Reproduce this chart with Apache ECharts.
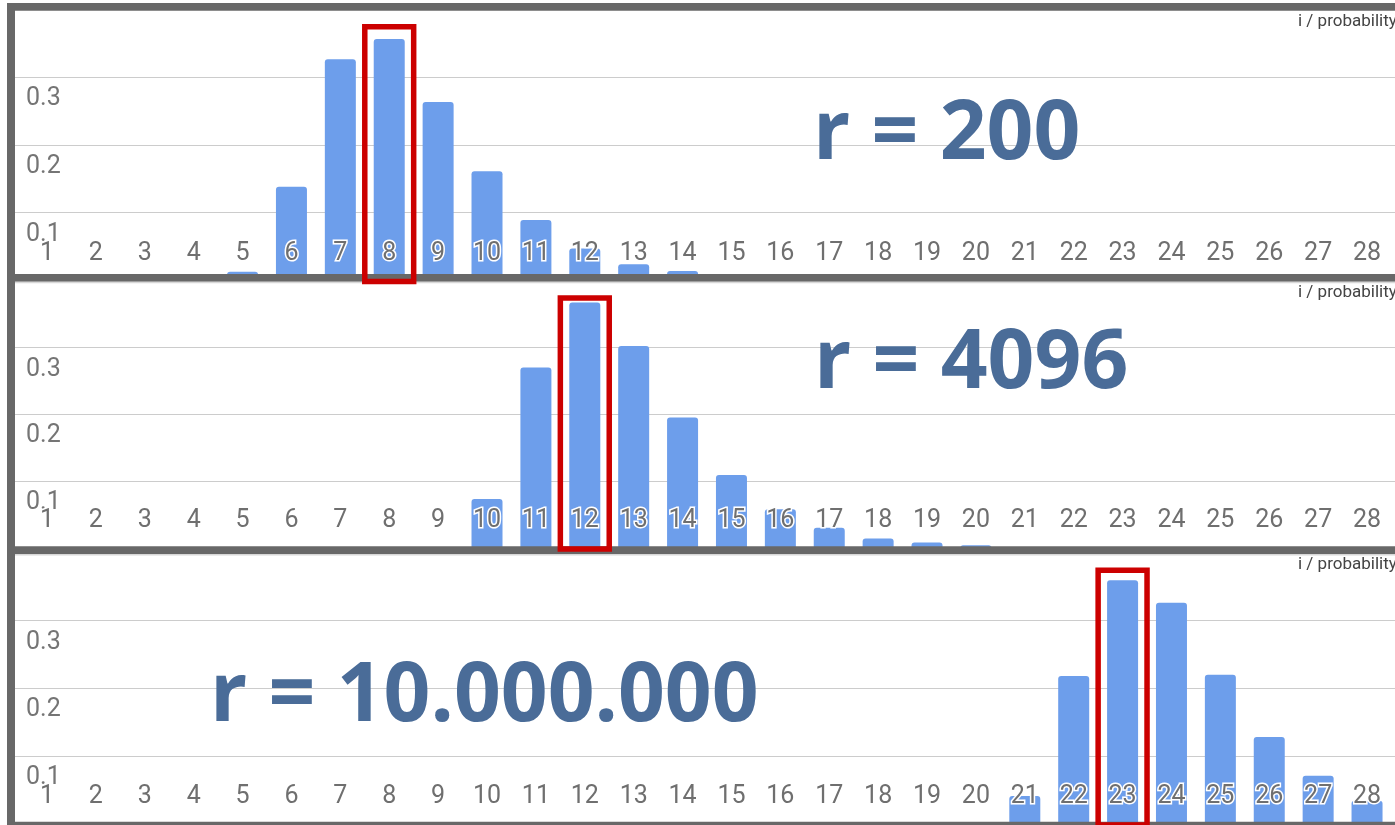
<!DOCTYPE html>
<html>
<head>
<meta charset="utf-8">
<script src="https://cdn.jsdelivr.net/npm/echarts@6/dist/echarts.min.js"></script>
<style>
html, body { margin: 0; padding: 0; background: #fff; }
#main { width: 1395px; height: 825px; }
</style>
</head>
<body>
<div id="main"></div>
<script>
// i = 1 .. 28
var categories = [1, 2, 3, 4, 5, 6, 7, 8, 9, 10, 11, 12, 13, 14, 15, 16, 17, 18, 19, 20, 21, 22, 23, 24, 25, 26, 27, 28];
// probability per i
var probR200 = [0, 0, 0, 0, 0.013, 0.138, 0.326, 0.356, 0.263, 0.161, 0.089, 0.047, 0.024, 0.014,
                0, 0, 0, 0, 0, 0, 0, 0, 0, 0, 0, 0, 0, 0];
var probR4096 = [0, 0, 0, 0, 0, 0, 0, 0, 0, 0.073, 0.270, 0.367, 0.302, 0.195, 0.109, 0.058, 0.030,
                 0.014, 0.008, 0.004, 0, 0, 0, 0, 0, 0, 0, 0];
var probR10M = [0, 0, 0, 0, 0, 0, 0, 0, 0, 0, 0, 0, 0, 0, 0, 0, 0, 0, 0, 0,
                0.041, 0.218, 0.359, 0.326, 0.220, 0.128, 0.071, 0.034];
var yTickLabels = [0.1, 0.2, 0.3];
var panelTitles = ['r = 200', 'r = 4096', 'r = 10.000.000'];
var peakI = [8, 12, 23];

// layout of the three stacked panels (pixels)
var panels = [
  { data: probR200,  top: 9.1,   height: 271.4, frameBottom: 10.7, titleX: 813, titleY: 136 },
  { data: probR4096, top: 280.5, height: 267.4, frameBottom: 281.7, titleX: 814, titleY: 365 },
  { data: probR10M,  top: 552.5, height: 271.4, frameBottom: 554,  titleX: 210, titleY: 698 }
];
var BOX_TOP = 0.374;
var BAR_COLOR = '#6d9eeb';
var FRAME = '#686868';

var chart = echarts.init(document.getElementById('main'));

var grids = [], xAxes = [], yAxes = [], series = [];
panels.forEach(function (p, i) {
  grids.push({ left: 15, right: 0, top: p.top, height: p.height, containLabel: false });
  xAxes.push({
    type: 'value', gridIndex: i, min: 0.3455, max: 28.572, z: 5,
    axisLine: { show: false }, axisTick: { show: false }, splitLine: { show: false },
    axisLabel: {
      customValues: categories,
      margin: -14.5, verticalAlign: 'bottom',
      fontFamily: 'Roboto', fontSize: 25, color: '#6f6f6f',
      textBorderColor: '#fff', textBorderWidth: 3
    }
  });
  yAxes.push({
    type: 'value', gridIndex: i, min: 0, max: 0.4, interval: 0.1,
    axisLine: { show: false }, axisTick: { show: false },
    splitLine: { lineStyle: { color: '#cccccc', width: 1 } },
    axisLabel: {
      inside: true, margin: 11, verticalAlign: 'top', lineHeight: 44,
      fontFamily: 'Roboto', fontSize: 25, color: '#757575',
      formatter: function (v) {
        var r = Math.round(v * 10) / 10;
        return yTickLabels.indexOf(r) >= 0 ? String(r) : '';
      }
    }
  });
  series.push({
    type: 'bar', xAxisIndex: i, yAxisIndex: i, barWidth: 31, silent: true,
    itemStyle: { color: BAR_COLOR, borderRadius: [3, 3, 0, 0] },
    data: categories.map(function (c, k) { return [c, p.data[k]]; })
  });
});

chart.setOption({
  animation: false,
  grid: grids,
  xAxis: xAxes,
  yAxis: yAxes,
  series: series
});

// frame lines, titles, legend text and the red boxes round the peak
var gfx = [];
gfx.push({ type: 'rect', z: 100, shape: { x: 7, y: 3, width: 8, height: 822 }, style: { fill: FRAME } });
gfx.push({ type: 'rect', z: 100, shape: { x: 7, y: 3, width: 1388, height: 7.7 }, style: { fill: FRAME } });
gfx.push({ type: 'rect', z: 100, shape: { x: 7, y: 274, width: 1388, height: 7.7 }, style: { fill: FRAME } });
gfx.push({ type: 'rect', z: 100, shape: { x: 15, y: 281.7, width: 1380, height: 1.5 }, style: { fill: '#d8d8d8' } });
gfx.push({ type: 'rect', z: 100, shape: { x: 7, y: 546.3, width: 1388, height: 7.7 }, style: { fill: FRAME } });
gfx.push({ type: 'rect', z: 100, shape: { x: 15, y: 554, width: 1380, height: 1.5 }, style: { fill: '#d8d8d8' } });
gfx.push({ type: 'rect', z: 100, shape: { x: 7, y: 821.7, width: 1388, height: 4 }, style: { fill: FRAME } });

panels.forEach(function (p, i) {
  gfx.push({
    type: 'text', z: 50,
    style: { text: panelTitles[i], x: p.titleX, y: p.titleY, verticalAlign: 'middle',
             font: 'bold 82px "Open Sans"', fill: '#4a6c98' }
  });
  gfx.push({
    type: 'text', z: 50,
    style: { text: 'i / probability', x: 1298, y: p.frameBottom + 11, verticalAlign: 'middle',
             font: '17px Roboto', fill: '#444' }
  });
  var a = chart.convertToPixel({ gridIndex: i }, [peakI[i] - 0.5, BOX_TOP]);
  var b = chart.convertToPixel({ gridIndex: i }, [peakI[i] + 0.5, 0]);
  gfx.push({
    type: 'rect', z: 110,
    shape: { x: a[0], y: a[1], width: b[0] - a[0], height: b[1] + 1 - a[1] },
    style: { fill: 'none', stroke: '#cc0000', lineWidth: 5.5 }
  });
});

chart.setOption({ graphic: gfx });
</script>
</body>
</html>
